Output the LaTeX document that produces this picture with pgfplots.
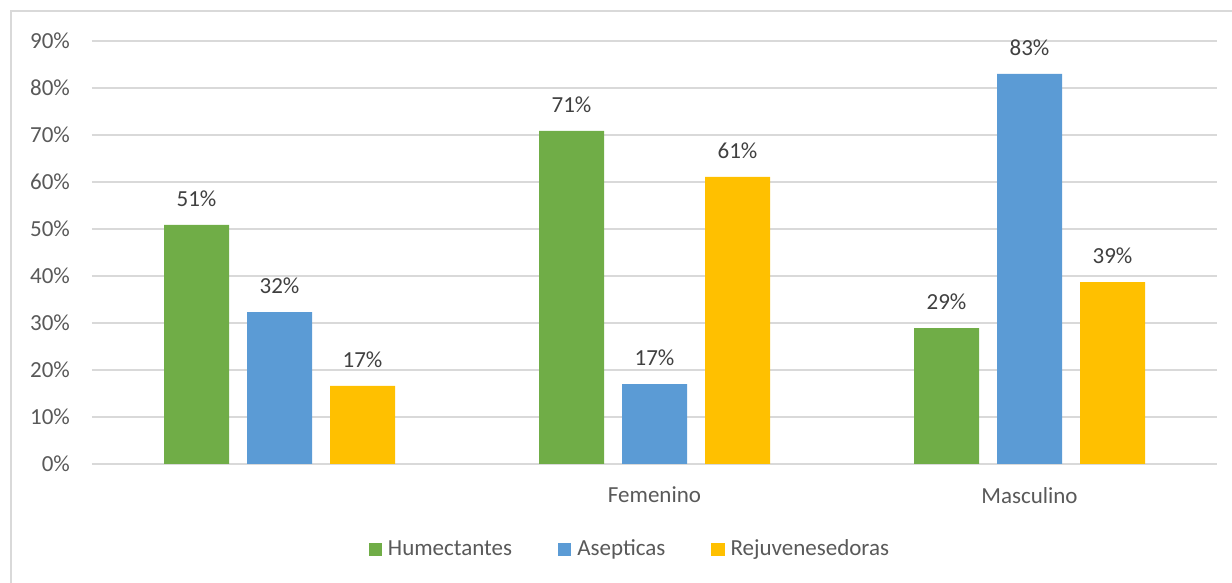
\documentclass[border=0pt]{standalone}
\usepackage{pgfplots}
\pgfplotsset{compat=1.18}
\usepackage{fontspec}
\setmainfont{Carlito}
\definecolor{cgreen}{HTML}{70AD47}
\definecolor{cblue}{HTML}{5B9BD5}
\definecolor{cyellow}{HTML}{FFC000}
\definecolor{cgrid}{HTML}{D9D9D9}
\definecolor{ctext}{HTML}{595959}
\definecolor{clabel}{HTML}{404040}
\begin{document}
\begin{tikzpicture}
\useasboundingbox (0,0) rectangle (616pt,291.5pt);
\draw[cgrid,line width=1pt] (5.5pt,-10pt) -- (5.5pt,286pt) -- (630pt,286pt);
\begin{axis}[
  at={(46pt,59.5pt)}, anchor=south west,
  scale only axis, width=562.5pt, height=211.5pt,
  xmin=-0.5, xmax=2.5, ymin=0, ymax=90,
  ybar, bar width=32.5pt,
  axis line style={draw=none},
  major tick length=0pt,
  ymajorgrids, grid style={cgrid, line width=0.8pt},
  ytick={0,10,...,90},
  yticklabel={\pgfmathprintnumber{\tick}\%},
  yticklabel style={xshift=-7.5pt},
  xtick={0,1,2}, xticklabels={{},Femenino,Masculino},
  xticklabel style={yshift=-8pt},
  tick label style={font=\fontsize{11.5pt}{13pt}\selectfont, text=ctext},
  /pgf/number format/assume math mode=true,
  nodes near coords={\pgfmathprintnumber[fixed,precision=0]{\pgfplotspointmeta}\%},
  nodes near coords style={font=\fontsize{11.5pt}{13pt}\selectfont, text=clabel, inner sep=0pt, yshift=9pt, anchor=south},
  legend style={at={(0.479,-0.202)}, anchor=center, draw=none, legend columns=3,
    font=\fontsize{11.5pt}{13pt}\selectfont, text=ctext,
    /tikz/every even column/.append style={column sep=21pt},
    /tikz/every odd column/.append style={column sep=1pt}},
  legend image code/.code={\fill[#1] (0pt,-3.3pt) rectangle (6.6pt,3.3pt);},
]
\addplot[fill=cgreen, draw=none, bar shift=-41.5pt] coordinates {(0,50.9) (1,70.9) (2,28.9)};
\addplot[fill=cblue, draw=none, bar shift=0pt] coordinates {(0,32.3) (1,17.0) (2,83.0)};
\addplot[fill=cyellow, draw=none, bar shift=41.5pt] coordinates {(0,16.6) (1,61.1) (2,38.7)};
\legend{Humectantes,Asepticas,Rejuvenesedoras}
\end{axis}
\end{tikzpicture}
\end{document}
